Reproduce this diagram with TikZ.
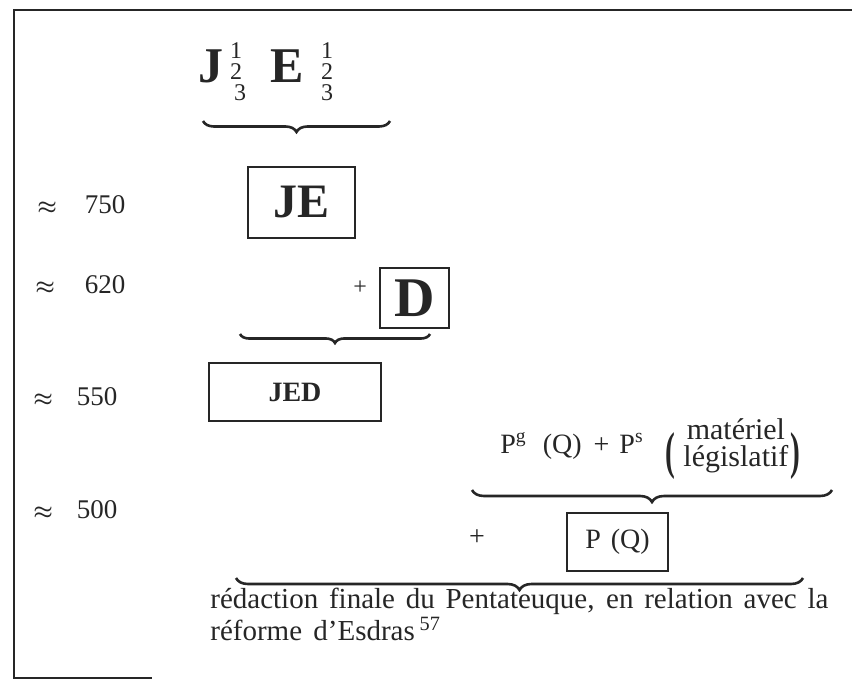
\documentclass[tikz,border=0pt]{standalone}
\usepackage{fontspec}
\usepackage{graphicx}
\setmainfont{Liberation Serif}
\usetikzlibrary{positioning,decorations.pathreplacing,calc}
\definecolor{inkc}{HTML}{262626}
\tikzset{
  box/.style={draw=inkc, line width=0.7pt, inner sep=0pt, align=center, text=inkc},
  sig/.style={font=\fontsize{25}{28}\selectfont\bfseries, text=inkc, inner sep=0pt},
  idx/.style={font=\fontsize{12}{13}\selectfont, text=inkc, inner sep=0pt, anchor=base},
  datelbl/.style={font=\fontsize{13.5}{15}\selectfont, text=inkc, inner sep=0pt, anchor=base west},
  txt/.style={font=\fontsize{14.5}{12.5}\selectfont, text=inkc, inner sep=0pt},
  brc/.style={decorate, decoration={brace, mirror, amplitude=#1}, draw=inkc, line width=1.3pt},
  brc/.default=5pt,
}
\newcommand{\aprx}{{\fontsize{11}{12}\selectfont\boldmath$\approx$}}
\newcommand{\bigpar}[1]{\raisebox{-0.42\height}{\scalebox{1.05}[1.85]{\bfseries #1}}}

\begin{document}
\begin{tikzpicture}[x=0.5pt, y=-0.5pt]
  \useasboundingbox (0,0) rectangle (852,680);
  % frame of the page
  \draw[inkc, line width=0.8pt] (852,10) -- (14,10) -- (14,678) -- (152,678);

  % dates
  \node[datelbl] (d750) at (37,213) {\aprx\hspace{14pt}750};
  \node[datelbl] (d620) at (35,293) {\aprx\hspace{15pt}620};
  \node[datelbl] (d550) at (33,405) {\aprx\hspace{12pt}550};
  \node[datelbl] (d500) at (33,518) {\aprx\hspace{12pt}500};

  % J and E with their layers
  \node[sig, anchor=base] (j) at (211,83) {J};
  \node[sig, anchor=base] (e) at (287,83) {E};
  \node[idx] (jone) at (236,58) {1};
  \node[idx] (jtwo) at (236,79) {2};
  \node[idx] (jthree) at (240,100) {3};
  \node[idx] (eone) at (327,58) {1};
  \node[idx] (etwo) at (327,79) {2};
  \node[idx] (ethree) at (327,100) {3};
  \coordinate (b1l) at (203,121);
  \coordinate (b1r) at (390,121);
  \draw[brc=5.5pt] (b1l) -- (b1r);

  \node[box, minimum width=53.5pt, minimum height=35.5pt,
        font=\fontsize{24}{26}\selectfont\bfseries] (je) at (301.5,202.5) {JE};

  \node[box, minimum width=34.5pt, minimum height=30pt, sig,
        font=\fontsize{28}{30}\selectfont\bfseries] (dt) at (414.5,298) {D};
  \node[txt, font=\fontsize{12}{12}\selectfont, left=6pt of dt.west, yshift=5pt] (plusd) {+};
  \coordinate (b2l) at (240,334);
  \coordinate (b2r) at (430,334);
  \draw[brc=4.5pt] (b2l) -- (b2r);

  \node[box, minimum width=86pt, minimum height=29pt,
        font=\fontsize{14}{16}\selectfont\bfseries] (jed) at (295,392) {JED};

  % P layer
  \node[txt, font=\fontsize{14}{16}\selectfont, anchor=base west] (pg) at (500,453)
       {P\textsuperscript{g}\hspace{8pt}(Q)\hspace{6pt}+\hspace{5pt}P\textsuperscript{s}\hspace{11pt}%
        \bigpar{(}\hspace{4pt}$\vcenter{\hbox{\fontsize{15}{11}\selectfont
        \begin{tabular}{@{}c@{}}mat\'eriel\\l\'egislatif\end{tabular}}}$\hspace{1pt}\bigpar{)}};
  \coordinate (b3l) at (472,490);
  \coordinate (b3r) at (832,490);
  \draw[brc=6pt] (b3l) -- (b3r);

  \node[txt, font=\fontsize{14}{16}\selectfont] (plusp) at (477,538) {+};
  \node[box, minimum width=50.5pt, minimum height=29pt,
        font=\fontsize{14}{16}\selectfont] (pq) at (617.5,542) {P\hspace{5pt}(Q)};
  \coordinate (b4l) at (236,578);
  \coordinate (b4r) at (803,578);
  \draw[brc=6pt] (b4l) -- (b4r);

  \node[txt, anchor=north west, text width=309pt, align=justify] (redac) at (210,588)
       {rédaction finale du Pentateuque, en relation avec la\linebreak
        réforme\hspace{2pt} d’Esdras\,\textsuperscript{57}};
\end{tikzpicture}
\end{document}
